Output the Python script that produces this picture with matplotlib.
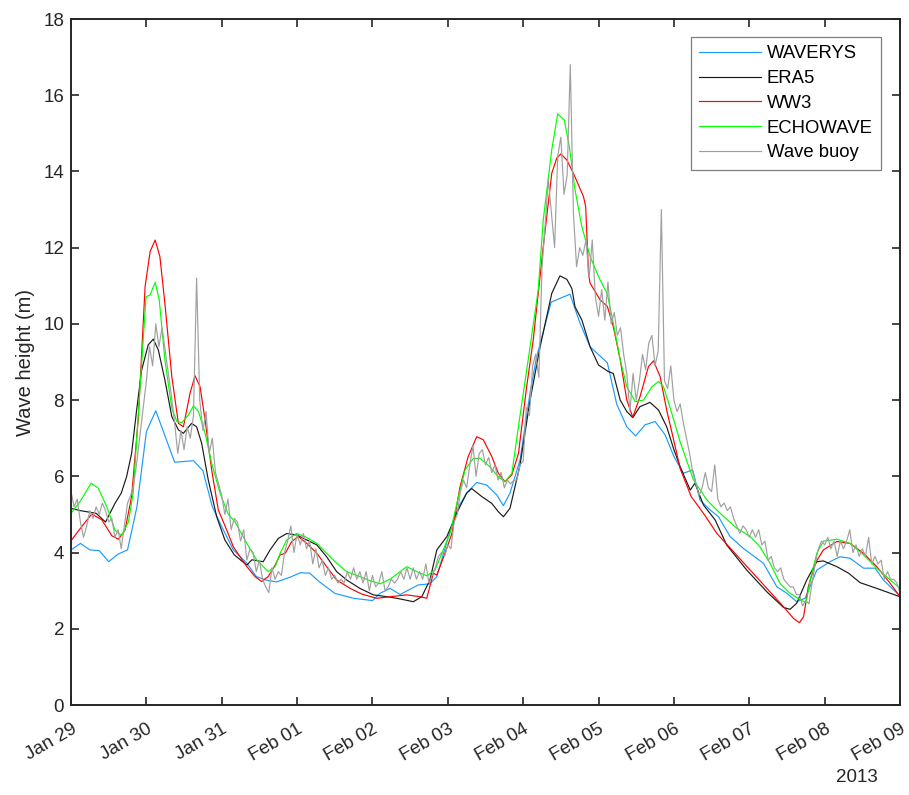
import numpy as np
import matplotlib
matplotlib.use('Agg')
import matplotlib.pyplot as plt
import matplotlib.dates as mdates
import matplotlib.transforms as mtransforms
from datetime import datetime

# hours after 2013-01-29 00:00 and significant wave height (m)
waverys_hours = [0, 3, 6, 9, 12, 15, 18, 21, 24, 27, 33, 39, 42, 45, 48, 51.7, 56, 59, 62, 65.5,
                 69.7, 73, 76, 79, 84, 90, 96, 98.4, 101.6, 104.8, 110.6, 114.3, 116.5, 120.2,
                 123.4, 126, 129.2, 132.4, 135.6, 137.7, 139.8, 143, 146.2, 148.3, 152.9, 158.9,
                 162.1, 165.3, 170.8, 173.8, 177, 179.8, 182.8, 186, 189.2, 192, 195, 198, 200.3,
                 203.5, 206.2, 209.9, 214.1, 220.5, 224.8, 228, 231.1, 233.8, 237.5, 241.7, 244.9,
                 248.1, 252.4, 256.1, 258.7, 264]
waverys_hs = [4.07, 4.24, 4.07, 4.05, 3.76, 3.96, 4.07, 5.2, 7.17, 7.72, 6.37, 6.41, 6.15, 5.2, 4.68,
              4.07, 3.72, 3.37, 3.28, 3.23, 3.35, 3.47, 3.46, 3.24, 2.93, 2.8, 2.74, 2.93, 3.06, 2.9,
              3.15, 3.18, 3.37, 4.42, 5.2, 5.56, 5.84, 5.77, 5.51, 5.23, 5.56, 6.43, 8.2, 9.14, 10.57,
              10.78, 10.02, 9.4, 8.98, 7.89, 7.3, 7.06, 7.35, 7.44, 7.09, 6.52, 6.08, 6.17, 5.38, 5.12,
              4.94, 4.42, 4.11, 3.72, 3.1, 2.93, 2.71, 2.8, 3.54, 3.76, 3.89, 3.85, 3.59, 3.59, 3.28,
              2.86]

era5_hours = [0, 3, 8, 11, 14, 16, 17.7, 19.3, 20.9, 22.5, 24.6, 26.2, 27.8, 29.9, 32.1, 34.2, 35.8,
              38.4, 40, 41.6, 43.7, 46.4, 49, 52, 56, 57.6, 61.2, 63.4, 66, 68.7, 71.9, 75.1, 78.3,
              81.4, 84.6, 87.8, 92, 96.3, 101.6, 105, 109, 111.7, 114.3, 116.5, 119.7, 122.8, 126,
              127.6, 130.8, 134, 136.1, 137.7, 139.8, 143, 146.2, 149.4, 153.1, 155.7, 157.9, 159.5,
              160.5, 162.7, 165.3, 168, 171.1, 172.7, 174.9, 177, 178.9, 181.2, 184.4, 187.1, 189.7,
              192, 194, 197.2, 198.7, 201.4, 205.1, 208.8, 215.2, 221.6, 226.9, 229, 231.1, 234.3,
              237.5, 239.6, 243.9, 247.6, 251.3, 256.6, 264]
era5_hs = [5.16, 5.1, 5.03, 4.8, 5.29, 5.56, 5.99, 6.6, 7.74, 8.79, 9.45, 9.6, 9.32, 8.53, 7.57, 7.22,
           7.13, 7.39, 7.3, 6.87, 5.91, 4.94, 4.33, 3.94, 3.67, 3.81, 3.76, 4.07, 4.37, 4.5, 4.46,
           4.33, 4.2, 3.89, 3.5, 3.28, 3.06, 2.89, 2.83, 2.78, 2.71, 2.84, 3.28, 4.07, 4.42, 5.03,
           5.56, 5.68, 5.47, 5.29, 5.07, 4.94, 5.16, 6.3, 8.0, 9.4, 10.8, 11.26, 11.17, 10.93, 10.45,
           10.1, 9.4, 8.92, 8.75, 8.7, 8.0, 7.7, 7.54, 7.83, 7.94, 7.74, 7.3, 6.7, 6.25, 5.64, 5.82,
           5.25, 4.86, 4.2, 3.54, 2.97, 2.56, 2.51, 2.67, 3.28, 3.76, 3.78, 3.63, 3.46, 3.21, 3.06,
           2.84]

ww3_hours = [0, 3.4, 6.6, 9.8, 13, 15.1, 17.2, 19.3, 21.4, 23.6, 25.2, 26.8, 28.3, 29.9, 32.1, 34.2,
             35.8, 37.9, 39.5, 41.1, 42.7, 44.8, 46.9, 49.6, 51.7, 56, 58.6, 60.7, 62.8, 65, 66.6,
             68.2, 70.3, 72.4, 75.1, 78.3, 81.4, 84.6, 88.9, 92.6, 97.4, 101.6, 106.9, 111.2, 113.3,
             115.4, 116.5, 119.1, 121.3, 123.9, 126.5, 129.2, 131.3, 134, 136.1, 138.2, 140.4, 142.5,
             145.1, 147.2, 150.4, 153.1, 154.7, 156, 157.9, 160, 163.2, 163.9, 164.8, 165.3, 168.5,
             170.8, 172.7, 174.9, 177, 178.9, 181.2, 183.9, 185.5, 187.6, 189.7, 191.9, 194, 195.4,
             197.5, 201.4, 205.7, 211, 216.3, 221.6, 226.9, 230.1, 232, 233.3, 234.8, 237, 239.6,
             243.9, 248.1, 252.4, 256.6, 260.9, 264]
ww3_hs = [4.31, 4.68, 5.01, 4.86, 4.44, 4.35, 4.59, 5.47, 7.48, 10.98, 11.9, 12.2, 11.77, 10.54, 8.62,
          7.39, 7.3, 8.18, 8.64, 8.35, 7.48, 6.17, 5.12, 4.59, 4.15, 3.63, 3.37, 3.24, 3.37, 3.67,
          3.94, 3.98, 4.29, 4.42, 4.24, 3.98, 3.63, 3.28, 3.06, 2.91, 2.8, 2.84, 2.89, 2.84, 2.8,
          3.46, 3.41, 3.98, 4.5, 5.73, 6.52, 7.04, 6.96, 6.52, 6.08, 5.86, 6.04, 6.6, 8.35, 9.58,
          12.03, 13.95, 14.35, 14.46, 14.3, 13.95, 13.34, 13.08, 11.33, 11.07, 10.63, 10.46, 9.93,
          9.06, 8.0, 7.55, 8.09, 8.88, 9.03, 8.62, 7.74, 6.96, 6.2, 5.91, 5.47, 5.03, 4.5, 4.02,
          3.54, 3.06, 2.58, 2.27, 2.16, 2.32, 3.1, 3.72, 4.07, 4.29, 4.24, 3.98, 3.63, 3.19, 2.84]

echowave_hours = [0, 2.9, 6.4, 8.7, 11.4, 14, 16.1, 18.3, 19.8, 22, 23.9, 25.2, 26.8, 28.1, 29.9,
                  32.1, 33.7, 35.3, 37.4, 39, 40.6, 42.7, 44.8, 47.5, 50.1, 52.2, 56, 59.1, 62.8, 65,
                  66.6, 68.7, 71.9, 74.5, 78.3, 81.4, 84.6, 87.8, 92, 95.2, 98.4, 101.6, 106.9, 110.1,
                  113.3, 115.9, 118.1, 120.7, 123.4, 125.5, 128.1, 130.3, 133.4, 136.1, 138.2, 140.4,
                  143, 146.2, 148.8, 150.4, 153.1, 155, 157.1, 158.7, 160.5, 162.7, 165.3, 168, 170.8,
                  172.7, 174.9, 177, 179.7, 182.3, 185, 187.1, 188.7, 191.3, 194, 198.2, 202.5, 206.7,
                  212, 216.3, 219.4, 222.6, 225.8, 229, 232.2, 234.1, 235.4, 237.5, 239.6, 243.9,
                  248.1, 252.4, 256.6, 260.9, 264]
echowave_hs = [5.03, 5.34, 5.82, 5.69, 5.2, 4.59, 4.44, 4.81, 5.56, 8.35, 10.71, 10.76, 11.09, 10.63,
               9.06, 7.79, 7.44, 7.41, 7.61, 7.85, 7.7, 7.13, 6.34, 5.55, 5.0, 4.81, 4.24, 3.81, 3.5,
               3.63, 3.98, 4.33, 4.5, 4.42, 4.24, 3.98, 3.72, 3.5, 3.37, 3.26, 3.18, 3.3, 3.63, 3.5,
               3.39, 3.54, 3.98, 4.5, 5.47, 6.17, 6.47, 6.47, 6.25, 5.99, 5.86, 6.08, 7.6, 9.4, 10.9,
               12.73, 14.57, 15.51, 15.35, 14.65, 13.52, 12.55, 11.77, 11.24, 10.78, 10.02, 9.06,
               8.35, 7.96, 8.0, 8.35, 8.49, 8.35, 7.66, 6.9, 5.91, 5.38, 5.03, 4.64, 4.42, 4.15, 3.72,
               3.19, 2.93, 2.76, 2.69, 3.28, 3.98, 4.3, 4.35, 4.24, 3.94, 3.59, 3.28, 3.06]

# hourly buoy record, one row per day
buoy_hs = [
    5.6, 5.2, 5.4, 4.8, 4.4, 4.7, 5.1, 4.9, 5.2, 5.0, 5.3, 5.1, 4.8, 4.9, 4.4, 4.6, 4.1, 4.7, 5.3, 5.5, 5.8, 6.4, 7.1, 7.8,
    8.5, 9.4, 8.9, 10.0, 9.4, 9.9, 9.3, 8.7, 8.1, 7.4, 6.6, 7.2, 6.7, 7.3, 7.0, 7.6, 11.2, 8.0, 7.2, 7.7, 6.6, 7.0, 6.1, 5.8,
    5.5, 5.0, 5.4, 4.6, 4.9, 4.8, 4.3, 4.6, 3.8, 4.1, 4.0, 3.5, 3.8, 3.3, 3.1, 2.95, 3.6, 3.3, 3.5, 3.4, 4.0, 4.3, 4.7, 4.0,
    4.5, 4.2, 4.5, 4.1, 4.3, 3.7, 4.1, 3.6, 3.8, 3.4, 3.6, 3.3, 3.4, 3.2, 3.3, 3.2, 3.5, 3.3, 3.6, 3.3, 3.5, 3.2, 3.5, 3.0,
    3.4, 3.1, 3.2, 3.5, 3.0, 3.1, 3.3, 3.2, 3.3, 3.5, 3.3, 3.6, 3.3, 3.6, 3.3, 3.5, 3.3, 3.7, 3.2, 3.4, 3.6, 3.9, 4.0, 3.9,
    4.2, 4.1, 4.8, 5.0, 5.6, 5.9, 5.7, 6.3, 6.8, 6.0, 6.6, 6.7, 6.3, 6.5, 6.1, 6.3, 5.9, 6.1, 5.7, 5.9, 5.8, 5.9, 5.9, 6.3,
    6.4, 7.8, 7.6, 8.9, 9.2, 8.6, 11.5, 12.6, 13.8, 12.9, 12.0, 14.4, 14.9, 13.4, 13.9, 16.8, 12.9, 11.5, 12.0, 11.8, 12.2, 11.2, 12.2, 10.7,
    10.2, 10.9, 10.1, 11.1, 10.0, 10.3, 9.7, 9.9, 9.2, 8.7, 7.7, 8.7, 8.0, 8.5, 9.2, 8.8, 9.5, 9.7, 8.9, 9.3, 13.0, 8.5, 8.3, 8.9,
    8.0, 7.7, 7.9, 7.4, 7.0, 6.6, 6.1, 5.8, 5.5, 5.7, 6.1, 5.7, 5.6, 6.3, 5.4, 5.2, 5.3, 5.1, 5.2, 4.9, 4.7, 4.5, 4.7, 4.6,
    4.4, 4.6, 4.4, 4.6, 4.2, 4.3, 3.8, 3.9, 3.6, 3.5, 3.6, 3.3, 3.2, 3.1, 3.1, 2.9, 2.9, 2.6, 2.75, 2.65, 3.2, 3.7, 4.1, 4.3,
    4.2, 4.4, 4.1, 4.3, 3.9, 4.3, 4.1, 4.3, 4.6, 4.0, 4.2, 3.9, 4.1, 3.9, 4.4, 3.7, 3.9, 3.7, 3.8, 3.3, 3.5, 3.3, 3.3, 3.2,
    2.95,
]
buoy_hours = np.arange(len(buoy_hs))

start = mdates.date2num(datetime(2013, 1, 29))
end = mdates.date2num(datetime(2013, 2, 9))


def to_dates(hours):
    return start + np.asarray(hours, dtype=float) / 24.0


plt.rcParams['font.family'] = ['Liberation Sans', 'DejaVu Sans']
txt_col = '#262626'

fig = plt.figure(figsize=(9.09, 7.95), dpi=100)
ax = fig.add_axes([71 / 909, 90 / 795, 829 / 909, 686 / 795])

lw = 0.85
ax.plot(to_dates(waverys_hours), waverys_hs, color='#1a9bff', lw=lw, label='WAVERYS')
ax.plot(to_dates(era5_hours), era5_hs, color='#1a1a1a', lw=lw, label='ERA5')
ax.plot(to_dates(ww3_hours), ww3_hs, color='#ff0000', lw=lw, label='WW3')
ax.plot(to_dates(echowave_hours), echowave_hs, color='#00ff00', lw=lw, label='ECHOWAVE')
ax.plot(to_dates(buoy_hours), buoy_hs, color='#a0a0a0', lw=lw, label='Wave buoy')

ax.set_xlim(start, end)
ax.set_ylim(0, 18)
ax.set_yticks(np.arange(0, 19, 2))
ax.xaxis.set_major_locator(mdates.DayLocator())
ax.xaxis.set_major_formatter(mdates.DateFormatter('%b %d'))

ax.tick_params(direction='in', length=6, width=1.2, top=True, right=True,
               labelsize=13.5, colors=txt_col, pad=5)
# push rotated date labels down a little like the original
shift = mtransforms.ScaledTranslation(0, -9 / 100, fig.dpi_scale_trans)
for lab in ax.get_xticklabels():
    lab.set_rotation(30)
    lab.set_ha('right')
    lab.set_va('top')
    lab.set_rotation_mode('anchor')
    lab.set_transform(lab.get_transform() + shift)
for sp in ax.spines.values():
    sp.set_linewidth(1.4)
    sp.set_color(txt_col)

ax.set_ylabel('Wave height (m)', fontsize=14.5, color=txt_col, labelpad=6)
ax.text(0.9735, -0.106, '2013', transform=ax.transAxes, ha='right', va='center',
        fontsize=13.5, color=txt_col)

leg = ax.legend(loc='upper right', bbox_to_anchor=((881 - 71) / 829, (705 - 37) / 686),
                borderaxespad=0, fancybox=False, fontsize=13.3, handlelength=3.35,
                labelspacing=0.42, handletextpad=0.33, borderpad=0.45, framealpha=1)
leg.get_frame().set_edgecolor('#7f7f7f')
leg.get_frame().set_linewidth(0.9)
for t in leg.get_texts():
    t.set_color('#000000')

fig.savefig('out.png', dpi=100)
